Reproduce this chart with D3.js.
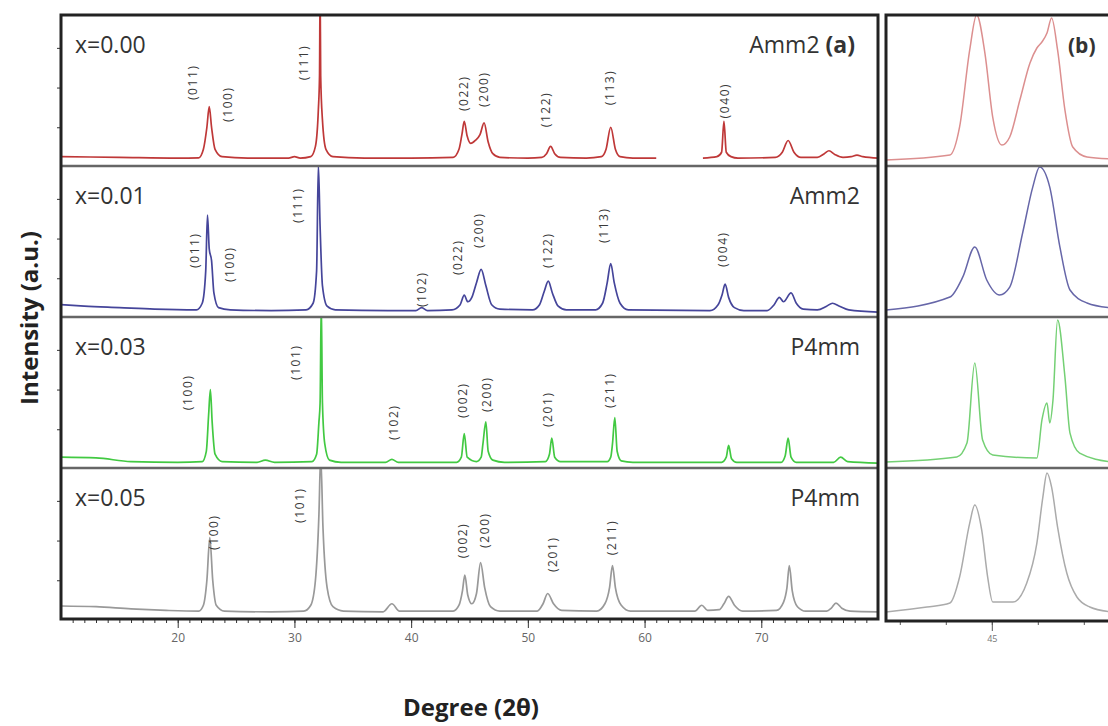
<!DOCTYPE html>
<html>
<head>
<meta charset="utf-8">
<script src="https://cdnjs.cloudflare.com/ajax/libs/d3/7.8.5/d3.min.js"></script>
<style>
  body { margin: 0; background: #fff; }
  .chart text { font-family: "Open Sans", "DejaVu Sans", sans-serif; }
</style>
</head>
<body>
<div class="chart"></div>
<script>
// Data: [2theta, intensity], intensity in arbitrary units (0-100 per panel)
var samples = ["x=0.00", "x=0.01", "x=0.03", "x=0.05"];
var phases = ["Amm2", "Amm2", "P4mm", "P4mm"];
var xTicks = [20, 30, 40, 50, 60, 70];
var zoomTicks = [43, 44, 45, 46, 47];
var zoomTickLabels = [45];

var pattern000 = [
  [10, 5], [15, 4.5], [20, 4], [21.8, 4.2],
  [22.2, 10], [22.5, 25], [22.7, 39], [22.9, 25], [23.2, 10], [23.8, 5],
  [26, 4], [29.5, 4], [30.0, 5], [30.5, 4], [31.4, 5], [31.8, 12], [32.05, 37], [32.15, 60], [32.2, 120], [32.25, 60], [32.4, 30], [32.7, 10], [33.3, 5],
  [36, 4], [40, 4], [43.6, 4.5],
  [44.1, 10], [44.35, 20], [44.55, 29], [44.8, 19], [45.1, 14], [45.5, 16], [45.9, 20], [46.25, 28], [46.6, 15], [47.0, 7], [47.6, 4.5],
  [50, 4], [51.2, 4.5], [51.6, 7], [51.95, 12], [52.3, 7], [52.8, 4.5],
  [55, 4], [56.3, 5], [56.7, 10], [57.1, 25], [57.5, 10], [57.9, 5], [59, 4], [61, 4], [63, null], [65, 4],
  [66.2, 5], [66.6, 8], [66.8, 29], [67.0, 8], [67.4, 5], [68, 4],
  [71.2, 4.5], [71.8, 8], [72.3, 16], [72.8, 8], [73.4, 4.5],
  [74.8, 4.5], [75.4, 7], [75.8, 9], [76.3, 6.5], [77, 4.5], [77.7, 5], [78.2, 6], [78.7, 5], [80, 4]
];

var pattern001 = [
  [10, 7], [12, 6], [15, 5], [18, 4], [21.6, 3.5],
  [22.1, 8], [22.4, 30], [22.55, 68], [22.7, 45], [22.9, 37], [23.1, 15], [23.5, 5], [24.5, 3.5],
  [28, 3], [31.0, 3.5], [31.6, 8], [31.9, 30], [32.05, 102], [32.2, 60], [32.4, 20], [32.8, 6], [33.5, 3.5],
  [38, 3], [40.4, 3], [40.9, 5], [41.4, 3], [43.5, 3.5],
  [44.2, 7], [44.55, 13.5], [44.85, 9], [45.2, 12], [45.6, 22], [46.0, 31], [46.4, 20], [46.9, 7], [47.6, 4],
  [50.4, 3.5], [51.0, 7], [51.4, 16], [51.75, 23], [52.1, 15], [52.6, 6], [53.3, 3.5],
  [55.8, 3.5], [56.4, 8], [56.8, 22], [57.1, 35], [57.4, 22], [57.9, 8], [58.6, 3.5],
  [65.6, 3], [66.3, 7], [66.65, 14], [66.9, 21], [67.2, 12], [67.7, 5], [68.5, 3],
  [70.5, 3], [71.1, 7], [71.55, 12], [71.9, 9], [72.55, 15], [73.0, 8], [73.6, 4],
  [74.8, 3.5], [75.6, 6], [76.1, 8], [76.7, 6], [77.5, 3.5], [80, 2]
];

var pattern003 = [
  [10, 6], [13, 5.5], [16, 3], [20, 2.5], [22.1, 3],
  [22.45, 10], [22.65, 35], [22.8, 52], [22.95, 30], [23.2, 8], [23.8, 3],
  [26.8, 2.5], [27.5, 4], [28.3, 2.5], [31.5, 3], [31.9, 8], [32.1, 30], [32.2, 43], [32.3, 112], [32.4, 43], [32.6, 15], [33.0, 4], [34, 2.5],
  [37.8, 2.5], [38.35, 4.5], [38.9, 2.5], [43.9, 2.5],
  [44.3, 6], [44.55, 22], [44.8, 6], [45.6, 3], [46.0, 6], [46.15, 15], [46.4, 30], [46.6, 10], [47.0, 4], [48, 2.5],
  [51.5, 3], [51.85, 8], [52.05, 19], [52.3, 6], [52.8, 3],
  [56.8, 3], [57.1, 6], [57.25, 15], [57.45, 33], [57.65, 10], [58.0, 3.5], [59, 2.5],
  [66.6, 2.5], [67.0, 6], [67.2, 14], [67.45, 5], [67.9, 2.5],
  [71.7, 2.5], [72.05, 7], [72.3, 19], [72.55, 6], [73.0, 2.5],
  [76.2, 2.5], [76.8, 6], [77.4, 3], [80, 2]
];

var pattern005 = [
  [10, 7.5], [13, 7], [16, 5.5], [19, 4.5], [21.8, 4],
  [22.2, 8], [22.5, 25], [22.75, 54], [23.0, 25], [23.3, 8], [24, 4],
  [28, 3.5], [30.8, 4], [31.4, 8], [31.8, 25], [32.1, 70], [32.25, 110], [32.45, 60], [32.8, 20], [33.3, 7], [34.2, 4],
  [37.6, 3.5], [38.35, 9], [39.0, 4], [43.6, 4],
  [44.1, 8], [44.4, 18], [44.6, 28.5], [44.85, 15], [45.2, 9], [45.6, 16], [45.95, 37], [46.3, 20], [46.8, 7], [47.6, 4],
  [50.8, 4], [51.3, 9], [51.7, 16], [52.2, 9], [52.9, 4.5],
  [55.9, 4], [56.6, 9], [57.0, 20], [57.25, 35], [57.5, 20], [58.0, 8], [58.8, 4],
  [64.3, 4], [64.9, 8], [65.4, 4.5], [66.4, 5], [66.8, 9], [67.2, 14], [67.7, 8], [68.4, 4],
  [71.3, 4.5], [71.9, 10], [72.2, 20], [72.4, 35], [72.65, 18], [73.1, 7], [73.8, 4],
  [75.6, 4], [76.0, 6], [76.4, 9.5], [76.9, 6], [77.6, 4], [80, 3.5]
];

// zoomed region around 45 degrees, panel (b)
var zoom000 = [
  [42.7, 2.7], [44.09, 6.1], [44.3, 25.2], [44.52, 77.6], [44.67, 101.4], [44.85, 75.5], [45.02, 31.9],
  [45.22, 12.9], [45.39, 18.4], [45.61, 43.5], [45.83, 68.7], [45.98, 78.9], [46.09, 83], [46.2, 89.1],
  [46.3, 99.3], [46.43, 77.6], [46.59, 36.7], [46.76, 11.6], [47.07, 4.8], [47.6, 3.4]
];
var zoom001 = [
  [42.7, 3.4], [44.09, 12.2], [44.37, 25.9], [44.63, 46.3], [44.89, 23.8], [45.17, 13.6], [45.39, 19],
  [45.67, 55.8], [45.89, 87], [46.04, 100.7], [46.26, 87], [46.48, 46.3], [46.7, 17], [47.07, 8.2], [47.6, 4.8]
];
var zoom003 = [
  [42.7, 2.7], [44.24, 6.1], [44.46, 15.6], [44.63, 70], [44.8, 17.7], [45.02, 7.5], [45.98, 5.4],
  [46.09, 31.3], [46.2, 42.9], [46.26, 29.3], [46.33, 44.9], [46.43, 99.3], [46.59, 60.5], [46.7, 22.4],
  [46.91, 8.8], [47.6, 2.7]
];
var zoom005 = [
  [42.7, 3.4], [43.59, 6.8], [44.09, 9.5], [44.3, 27.2], [44.52, 63.9], [44.63, 76.2], [44.78, 59.2],
  [44.91, 27.2], [45.02, 10.2], [45.46, 10.2], [45.76, 23.1], [45.98, 50.3], [46.11, 81.6], [46.2, 98],
  [46.3, 88.4], [46.43, 61.2], [46.63, 29.9], [46.85, 13.6], [47.13, 6.8], [47.6, 3.4]
];

// Miller index labels: [text, 2theta, intensity of label start]
var hkl000 = [["(011)", 21.3, 43.5], ["(100)", 24.3, 28.6], ["(111)", 30.8, 57], ["(022)", 44.5, 36],
  ["(200)", 46.2, 38.8], ["(122)", 51.5, 25], ["(113)", 57.0, 40], ["(040)", 66.9, 31]];
var hkl001 = [["(011)", 21.5, 32], ["(100)", 24.5, 22.4], ["(111)", 30.3, 62.6], ["(102)", 40.9, 5.4],
  ["(022)", 44.0, 27.2], ["(200)", 45.8, 45.6], ["(122)", 51.7, 32], ["(113)", 56.5, 49], ["(004)", 66.7, 32.7]];
var hkl003 = [["(100)", 20.9, 38], ["(101)", 30.1, 58.5], ["(102)", 38.5, 17.7], ["(002)", 44.4, 32.7],
  ["(200)", 46.5, 36.7], ["(201)", 51.7, 26.5], ["(211)", 57.0, 39.5]];
var hkl005 = [["(100)", 23.1, 45.6], ["(101)", 30.5, 64], ["(002)", 44.4, 40], ["(200)", 46.3, 47],
  ["(201)", 52.1, 30.6], ["(211)", 57.2, 42]];

var patterns = [pattern000, pattern001, pattern003, pattern005];
var zooms = [zoom000, zoom001, zoom003, zoom005];
var labels = [hkl000, hkl001, hkl003, hkl005];

var lineColors = ["#bf3838", "#45459a", "#42c942", "#999999"];
var zoomColors = ["#dc8f8f", "#6666a8", "#74d074", "#ababab"];

var svgWidth = 1108;
var svgHeight = 726;
var frame = { left: 61, right: 878, top: 15, bottom: 619 };
var zoomFrame = { left: 886, right: 1112 };
var panelHeight = (frame.bottom - frame.top) / 4;

var svg = d3.select(".chart")
  .append("svg")
  .attr("width", svgWidth)
  .attr("height", svgHeight)
  .style("display", "block");

// Step 1: x scales
var xScale = d3.scaleLinear().domain([10, 80]).range([frame.left, frame.right]);
var xZoom = d3.scaleLinear().domain([42.7, 47.6]).range([zoomFrame.left, zoomFrame.left + 4.9 * 46]);

var defs = svg.append("defs");

// Step 2: draw each stacked panel
patterns.forEach(function (data, i) {
  var top = frame.top + i * panelHeight;
  var bottom = top + panelHeight;
  var yScale = d3.scaleLinear().domain([0, 100]).range([bottom - 2, bottom - 149]);

  defs.append("clipPath").attr("id", "clipA" + i)
    .append("rect")
    .attr("x", frame.left).attr("y", top)
    .attr("width", frame.right - frame.left).attr("height", panelHeight);
  defs.append("clipPath").attr("id", "clipB" + i)
    .append("rect")
    .attr("x", zoomFrame.left).attr("y", top)
    .attr("width", zoomFrame.right - zoomFrame.left).attr("height", panelHeight);

  var line = d3.line()
    .defined(d => d[1] != null)
    .x(d => xScale(d[0]))
    .y(d => yScale(d[1]))
    .curve(d3.curveMonotoneX);

  var zoomLine = d3.line()
    .x(d => xZoom(d[0]))
    .y(d => yScale(d[1]))
    .curve(d3.curveMonotoneX);

  svg.append("path")
    .datum(data)
    .attr("clip-path", "url(#clipA" + i + ")")
    .attr("d", line)
    .attr("fill", "none")
    .attr("stroke", lineColors[i])
    .attr("stroke-width", 1.7)
    .attr("stroke-linejoin", "round");

  svg.append("path")
    .datum(zooms[i])
    .attr("clip-path", "url(#clipB" + i + ")")
    .attr("d", zoomLine)
    .attr("fill", "none")
    .attr("stroke", zoomColors[i])
    .attr("stroke-width", 1.5);

  // small ticks on the left spine
  var leftAxis = d3.axisLeft(yScale).tickValues([25, 52, 79]).tickSize(4).tickFormat("");
  svg.append("g")
    .attr("transform", `translate(${frame.left}, 0)`)
    .call(leftAxis)
    .call(g => g.select(".domain").remove())
    .selectAll("line").attr("stroke", "#333");

  // hkl labels
  svg.selectAll(null)
    .data(labels[i])
    .enter()
    .append("text")
    .attr("transform", d => `translate(${xScale(d[1])}, ${yScale(d[2])}) rotate(-90)`)
    .attr("dy", "0.35em")
    .attr("font-size", "12px")
    .attr("letter-spacing", "1.6px")
    .attr("fill", "#3a3a3a")
    .text(d => d[0]);

  // sample and phase labels
  svg.append("text")
    .attr("x", frame.left + 14)
    .attr("y", top + 38)
    .attr("font-size", "23px")
    .attr("fill", "#333")
    .text(samples[i]);

  var phase = svg.append("text")
    .attr("x", i == 0 ? 855 : 860)
    .attr("y", top + 38)
    .attr("text-anchor", "end")
    .attr("font-size", "23px")
    .attr("fill", "#333")
    .text(phases[i]);
  if (i == 0) {
    phase.append("tspan").attr("font-weight", "bold").text(" (a)");
  }

  // divider lines between panels
  if (i > 0) {
    svg.append("line")
      .attr("x1", frame.left).attr("x2", frame.right)
      .attr("y1", top).attr("y2", top)
      .attr("stroke", "#666").attr("stroke-width", 2.5);
    svg.append("line")
      .attr("x1", zoomFrame.left).attr("x2", zoomFrame.right)
      .attr("y1", top).attr("y2", top)
      .attr("stroke", "#666").attr("stroke-width", 2.5);
  }
});

// Step 3: bottom axes
var minorAxis = d3.axisBottom(xScale).tickValues(d3.range(11, 80)).tickSize(4).tickFormat("");
svg.append("g")
  .attr("transform", `translate(0, ${frame.bottom})`)
  .call(minorAxis)
  .call(g => g.select(".domain").remove())
  .selectAll("line").attr("stroke", "#333");

var majorAxis = d3.axisBottom(xScale).tickValues(xTicks).tickSize(9).tickPadding(5).tickFormat(d3.format("d"));
svg.append("g")
  .attr("transform", `translate(0, ${frame.bottom})`)
  .call(majorAxis)
  .call(g => g.select(".domain").remove())
  .call(g => g.selectAll("line").attr("stroke", "#333"))
  .selectAll("text")
  .attr("font-size", "12px")
  .attr("fill", "#666")
  .attr("font-family", "Open Sans, sans-serif");

var zoomMinor = d3.axisBottom(xZoom).tickValues(zoomTicks).tickSize(4).tickFormat("");
svg.append("g")
  .attr("transform", `translate(0, ${frame.bottom + 2})`)
  .call(zoomMinor)
  .call(g => g.select(".domain").remove())
  .selectAll("line").attr("stroke", "#555");

var zoomMajor = d3.axisBottom(xZoom).tickValues(zoomTickLabels).tickSize(10).tickPadding(5).tickFormat(d3.format("d"));
svg.append("g")
  .attr("transform", `translate(0, ${frame.bottom + 2})`)
  .call(zoomMajor)
  .call(g => g.select(".domain").remove())
  .call(g => g.selectAll("line").attr("stroke", "#555"))
  .selectAll("text")
  .attr("font-size", "9px")
  .attr("fill", "#777")
  .attr("font-family", "Open Sans, sans-serif");

// Step 4: frames
svg.append("rect")
  .attr("x", frame.left).attr("y", frame.top)
  .attr("width", frame.right - frame.left)
  .attr("height", frame.bottom - frame.top)
  .attr("fill", "none")
  .attr("stroke", "#222")
  .attr("stroke-width", 3);

svg.append("rect")
  .attr("x", zoomFrame.left).attr("y", frame.top)
  .attr("width", zoomFrame.right - zoomFrame.left + 10)
  .attr("height", frame.bottom + 2 - frame.top)
  .attr("fill", "none")
  .attr("stroke", "#222")
  .attr("stroke-width", 3);

svg.append("text")
  .attr("x", 1068)
  .attr("y", 53)
  .attr("font-size", "21px")
  .attr("font-weight", "bold")
  .attr("fill", "#333")
  .text("(b)");

// Step 5: axis titles
svg.append("text")
  .attr("transform", "rotate(-90)")
  .attr("x", -318)
  .attr("y", 38)
  .attr("text-anchor", "middle")
  .attr("font-size", "24px")
  .attr("font-weight", "bold")
  .attr("fill", "#222")
  .text("Intensity (a.u.)");

svg.append("text")
  .attr("x", 471)
  .attr("y", 716)
  .attr("text-anchor", "middle")
  .attr("font-size", "24px")
  .attr("font-weight", "bold")
  .attr("fill", "#222")
  .text("Degree (2θ)");
</script>
</body>
</html>
